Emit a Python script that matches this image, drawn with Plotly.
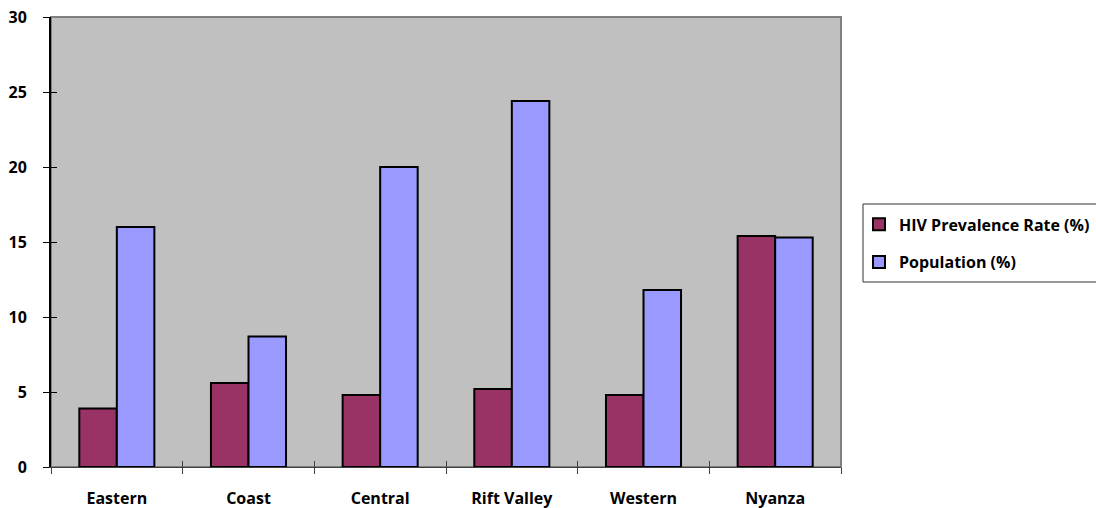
import plotly.graph_objects as go

regions = ["Eastern", "Coast", "Central", "Rift Valley", "Western", "Nyanza"]
hiv_prevalence = [3.9, 5.6, 4.8, 5.2, 4.8, 15.4]
population = [16.0, 8.7, 20.0, 24.4, 11.8, 15.3]
y_ticks = [0, 5, 10, 15, 20, 25, 30]

FONT = "Open Sans"
W, H = 1096, 508
M = dict(l=51, r=255, t=17, b=41)
plot_w = W - M["l"] - M["r"]
plot_h = H - M["t"] - M["b"]


def px_x(x):
    return (x - M["l"]) / plot_w


def px_y(y):
    return (H - M["b"] - y) / plot_h


fig = go.Figure()
fig.add_trace(go.Bar(
    x=regions, y=hiv_prevalence, name="<b>HIV Prevalence Rate (%)</b>",
    legendgroup="hiv",
    marker=dict(color="#993366", line=dict(color="black", width=2)),
))
fig.add_trace(go.Bar(
    x=regions, y=population, name="<b>Population (%)</b>",
    legendgroup="pop",
    marker=dict(color="#9999FF", line=dict(color="black", width=2)),
))
# helper trace so the overlay axes (inner half of the cross ticks) get drawn
fig.add_trace(go.Scatter(x=[None], y=[None], xaxis="x2", yaxis="y2",
                         showlegend=False, hoverinfo="skip"))

# plot-area frame: gray on top and right
fig.add_shape(type="rect", xref="paper", yref="paper", x0=0, x1=1, y0=0, y1=1,
              line=dict(color="#808080", width=2), layer="below")
# legend frame, running off the right edge of the page
fig.add_shape(type="rect", xref="paper", yref="paper",
              x0=px_x(863), x1=px_x(1110), y0=px_y(282), y1=px_y(204),
              line=dict(color="#333333", width=1), fillcolor="white", layer="below")

n = len(regions)
fig.update_layout(
    width=W, height=H,
    margin=dict(**M, autoexpand=False),
    paper_bgcolor="white",
    plot_bgcolor="#C0C0C0",
    barmode="group",
    bargap=0.43,
    bargroupgap=0,
    font=dict(family=FONT, color="black"),
    showlegend=True,
    legend=dict(
        x=px_x(859), y=0.577, xanchor="left", yanchor="top",
        bgcolor="rgba(0,0,0,0)", borderwidth=0,
        font=dict(family=FONT, size=16, color="black"),
        traceorder="grouped", tracegroupgap=14,
        itemsizing="constant", itemwidth=30,
    ),
    xaxis=dict(
        type="category",
        automargin=False,
        showline=True, linecolor="#404040", linewidth=1,
        ticks="outside", ticklen=6, tickcolor="#404040",
        tickson="boundaries",
        tickvals=regions,
        ticktext=[f"<b>{r}</b>" for r in regions],
        tickfont=dict(family=FONT, size=16, color="black"),
        ticklabelstandoff=17,
        showgrid=False,
    ),
    yaxis=dict(
        range=[0, 30],
        automargin=False,
        tickvals=y_ticks,
        ticktext=[f"<b>{v}</b>" for v in y_ticks],
        showline=True, linecolor="black", linewidth=2,
        ticks="outside", ticklen=6, tickcolor="black",
        tickfont=dict(family=FONT, size=16, color="black"),
        ticklabelstandoff=13,
        showgrid=False, zeroline=False,
    ),
    xaxis2=dict(
        overlaying="x", range=[-0.5, n - 0.5],
        tickvals=[i - 0.5 for i in range(n + 1)],
        ticks="inside", ticklen=6, tickcolor="#404040",
        showticklabels=False, showgrid=False, zeroline=False,
        showline=False, automargin=False,
    ),
    yaxis2=dict(
        overlaying="y", range=[0, 30],
        tickvals=y_ticks,
        ticks="inside", ticklen=6, tickcolor="black",
        showticklabels=False, showgrid=False, zeroline=False,
        showline=False, automargin=False,
    ),
)

fig.write_html("out.html")
